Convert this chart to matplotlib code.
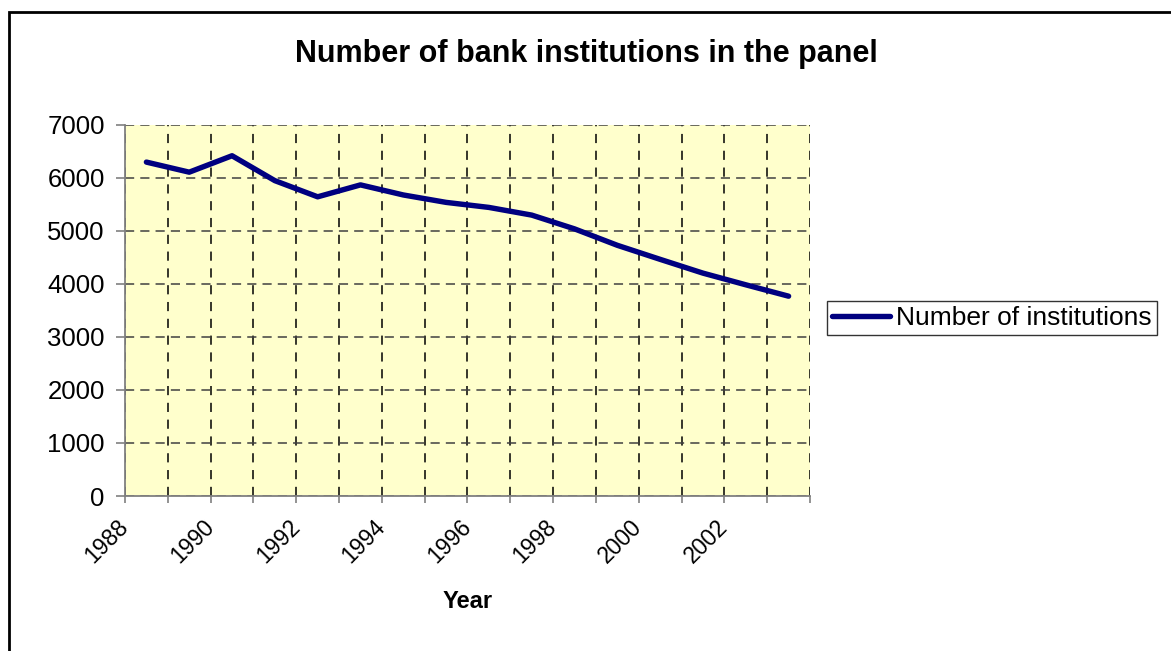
import numpy as np
import matplotlib
matplotlib.use("Agg")
import matplotlib.pyplot as plt
from matplotlib.patches import Rectangle

plt.rcParams["font.family"] = ["Liberation Sans", "DejaVu Sans"]

# Yearly count of bank institutions in the panel
years = [1988, 1989, 1990, 1991, 1992, 1993, 1994, 1995,
         1996, 1997, 1998, 1999, 2000, 2001, 2002, 2003]
institutions = [6300, 6110, 6420, 5950, 5645, 5870, 5680, 5540,
                5445, 5300, 5040, 4730, 4465, 4205, 3985, 3770]
y_ticks = [0, 1000, 2000, 3000, 4000, 5000, 6000, 7000]
series_name = "Number of institutions"

W, H = 1171, 651
fig = plt.figure(figsize=(W / 100, H / 100), dpi=100)
fig.patch.set_facecolor("white")

ax = fig.add_axes([125 / W, 1 - 496 / H, (810 - 125) / W, (496 - 125) / H])
ax.set_facecolor("#FFFFCC")

x = np.arange(len(years))
line, = ax.plot(x, institutions, color="#000080", lw=3.9,
                solid_capstyle="round", solid_joinstyle="round", zorder=3)

ax.set_xlim(-0.5, len(years) - 0.5)
ax.set_ylim(0, 7000)

# category boundaries carry the ticks and the vertical grid
bounds = np.arange(len(years) + 1) - 0.5
labels = [str(years[i]) if (i < len(years) and i % 2 == 0) else "" for i in range(len(bounds))]
ax.set_xticks(bounds)
ax.set_xticklabels(labels, rotation=45, ha="right", va="center",
                   rotation_mode="anchor", fontsize=16.5)
ax.set_yticks(y_ticks)
ax.set_yticklabels([str(v) for v in y_ticks], fontsize=18.5)

ax.tick_params(axis="x", length=5, width=1.2, color="#808080", pad=15)
ax.tick_params(axis="y", length=6.5, width=1.2, color="#808080", pad=8)

ax.grid(True, axis="y", linestyle=(0, (6, 4)), color="#404040", lw=1.1)
ax.grid(True, axis="x", linestyle=(0, (6, 5)), color="#000000", lw=1.1)
ax.set_axisbelow(True)

for side in ("top", "right"):
    ax.spines[side].set_visible(False)
for side in ("left", "bottom"):
    ax.spines[side].set_color("#808080")
    ax.spines[side].set_linewidth(1.3)

ax.set_xlabel("Year", fontsize=17, fontweight="bold", labelpad=16)

fig.text(586 / W, 1 - 54 / H, "Number of bank institutions in the panel",
         ha="center", va="center", fontsize=22, fontweight="bold")

leg = fig.legend([line], [series_name], loc="center left",
                 bbox_to_anchor=(827 / W, 1 - 318 / H), fontsize=19,
                 frameon=True, fancybox=False, handlelength=2.2,
                 handletextpad=0.2, borderpad=0.2, borderaxespad=0)
leg.get_frame().set_edgecolor("black")
leg.get_frame().set_linewidth(1.0)

# chart border
fig.patches.append(Rectangle((9 / W, -0.1), 1.2, (H - 12) / H + 0.1,
                             transform=fig.transFigure, fill=False,
                             edgecolor="black", lw=2))

fig.savefig("out.png", dpi=100)
